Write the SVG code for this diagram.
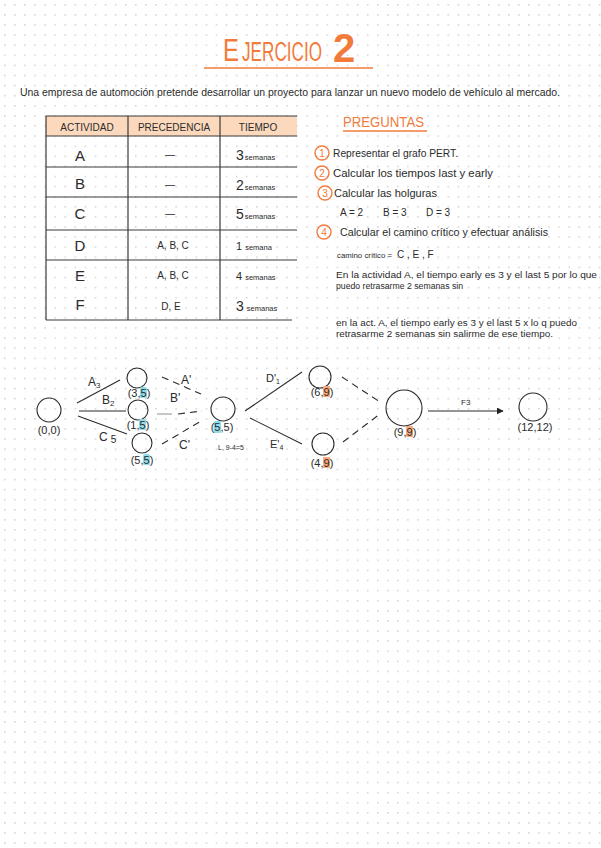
<svg xmlns="http://www.w3.org/2000/svg" width="601" height="848" viewBox="0 0 601 848">
<defs>
<pattern id="dots" x="4" y="4" width="10.08" height="10.1" patternUnits="userSpaceOnUse">
<circle cx="0.8" cy="0.8" r="0.8" fill="#c9c9c9"/>
</pattern>
<marker id="arr" viewBox="0 0 10 10" refX="9" refY="5" markerWidth="7" markerHeight="7" markerUnits="userSpaceOnUse" orient="auto">
<path d="M0,0 L10,5 L0,10 z" fill="#222"/>
</marker>
<style>
.t{font-family:"Liberation Sans","DejaVu Sans",sans-serif;fill:#2b2b2b}
.o{font-family:"Liberation Sans","DejaVu Sans",sans-serif;fill:#f27b3c}
.hw{font-size:8.5px}
.ln{stroke:#2b2b2b;stroke-width:1.1;fill:none}
.tb{stroke:#3a3a3a;stroke-width:1.2;fill:none}
.nd{stroke:#2b2b2b;stroke-width:1.1;fill:none}
.da{stroke:#2b2b2b;stroke-width:1.1;fill:none;stroke-dasharray:7 5}
.oc{stroke:#f27b3c;stroke-width:1.4;fill:none}
.lb{font-size:11px}
.hb{fill:#8fdcec}
.ho{fill:#f8a97b}
.cell{font-size:15px;text-anchor:middle}
.pre{font-size:10px;text-anchor:middle}
.num{font-size:14px}
.sem{font-size:7.5px}
</style>
</defs>
<rect width="601" height="848" fill="#ffffff"/>
<rect width="601" height="848" fill="url(#dots)"/>

<g id="title">
<g transform="translate(223,61) scale(0.77,1)"><text class="o" x="0" y="0" font-size="31">E</text></g>
<g transform="translate(242,61) scale(0.635,1)"><text class="o" x="0" y="0" font-size="27">JERCICIO</text></g>
<text class="o" x="333" y="62" font-size="40" font-weight="bold">2</text>
<line x1="204" y1="68" x2="373" y2="68" stroke="#f27b3c" stroke-width="1.5"/>
</g>

<g id="intro">
<text class="t" x="20" y="96" font-size="10" textLength="540" lengthAdjust="spacingAndGlyphs">Una empresa de automoción pretende desarrollar un proyecto para lanzar un nuevo modelo de vehículo al mercado.</text>
</g>

<g id="table">
<rect x="46" y="116" width="251" height="20" fill="#fbd2b2" opacity="0.85"/>
<line class="tb" x1="46" y1="116" x2="297" y2="116" stroke="#e9a77c"/>
<line class="tb" x1="46" y1="136" x2="297" y2="136"/>
<line class="tb" x1="46" y1="167" x2="297" y2="167"/>
<line class="tb" x1="46" y1="197" x2="297" y2="197"/>
<line class="tb" x1="46" y1="230" x2="297" y2="230"/>
<line class="tb" x1="46" y1="260" x2="297" y2="260"/>
<line class="tb" x1="46" y1="320" x2="292" y2="320"/>
<line class="tb" x1="46" y1="116" x2="46" y2="320"/>
<line class="tb" x1="128" y1="116" x2="128" y2="320"/>
<line class="tb" x1="220" y1="116" x2="220" y2="320"/>
<text class="t" x="87" y="131" font-size="10" text-anchor="middle">ACTIVIDAD</text>
<text class="t" x="174" y="131" font-size="10" text-anchor="middle">PRECEDENCIA</text>
<text class="t" x="258" y="131" font-size="10" text-anchor="middle">TIEMPO</text>
<text class="t cell" x="80" y="161">A</text>
<text class="t cell" x="80" y="189">B</text>
<text class="t cell" x="80" y="219">C</text>
<text class="t cell" x="80" y="251">D</text>
<text class="t cell" x="80" y="281">E</text>
<text class="t cell" x="80" y="310">F</text>
<text class="t pre" x="170" y="158" font-size="13">—</text>
<text class="t pre" x="170" y="188" font-size="13">—</text>
<text class="t pre" x="170" y="217" font-size="13" fill="#777">—</text>
<text class="t pre" x="173" y="249">A, B, C</text>
<text class="t pre" x="173" y="279">A, B, C</text>
<text class="t pre" x="171" y="310">D, E</text>
<text class="t" x="236" y="160"><tspan class="num">3</tspan><tspan class="sem" dx="1">semanas</tspan></text>
<text class="t" x="236" y="190"><tspan class="num">2</tspan><tspan class="sem" dx="1">semanas</tspan></text>
<text class="t" x="236" y="219"><tspan class="num">5</tspan><tspan class="sem" dx="1">semanas</tspan></text>
<text class="t" x="236" y="250"><tspan font-size="11">1</tspan><tspan class="sem" dx="3">semana</tspan></text>
<text class="t" x="236" y="280"><tspan font-size="11">4</tspan><tspan class="sem" dx="3">semanas</tspan></text>
<text class="t" x="236" y="311"><tspan class="num">3</tspan><tspan class="sem" dx="3">semanas</tspan></text>
</g>

<g id="preguntas">
<text class="o" x="343" y="127" font-size="14" textLength="81" lengthAdjust="spacingAndGlyphs">PREGUNTAS</text>
<line x1="343" y1="131" x2="427" y2="131" stroke="#f27b3c" stroke-width="1.3"/>
<circle class="oc" cx="322" cy="153" r="7"/>
<text class="o" x="322" y="157" font-size="10" text-anchor="middle">1</text>
<text class="t" x="333" y="157" font-size="10" textLength="125" lengthAdjust="spacingAndGlyphs">Representar el grafo PERT.</text>
<circle class="oc" cx="322" cy="173" r="7"/>
<text class="o" x="322" y="177" font-size="10" text-anchor="middle">2</text>
<text class="t" x="333" y="177" font-size="10" textLength="160" lengthAdjust="spacingAndGlyphs">Calcular los tiempos last y early</text>
<circle class="oc" cx="325" cy="193" r="7"/>
<text class="o" x="325" y="197" font-size="10" text-anchor="middle">3</text>
<text class="t" x="334" y="197" font-size="10" textLength="103" lengthAdjust="spacingAndGlyphs">Calcular las holguras</text>
<text class="t" x="340" y="216" font-size="10">A = 2</text>
<text class="t" x="383" y="216" font-size="10">B = 3</text>
<text class="t" x="426" y="216" font-size="10">D = 3</text>
<circle class="oc" cx="324" cy="232" r="7"/>
<text class="o" x="324" y="236" font-size="10" text-anchor="middle">4</text>
<text class="t" x="340" y="236" font-size="10" textLength="208" lengthAdjust="spacingAndGlyphs">Calcular el camino crítico y efectuar análisis</text>
<text class="t" x="337" y="258" font-size="7" textLength="55" lengthAdjust="spacingAndGlyphs">camino crítico =</text>
<text class="t" x="397" y="258" font-size="10">C , E , F</text>
<text class="t hw" x="336" y="278" textLength="261" lengthAdjust="spacingAndGlyphs">En la actividad A, el tiempo early es 3 y el last 5 por lo que</text>
<text class="t hw" x="336" y="289" textLength="127" lengthAdjust="spacingAndGlyphs">puedo retrasarme 2 semanas sin</text>
<text class="t hw" x="336" y="326" textLength="241" lengthAdjust="spacingAndGlyphs">en la act. A, el tiempo early es 3 y el last 5 x lo q puedo</text>
<text class="t hw" x="336" y="337" textLength="217" lengthAdjust="spacingAndGlyphs">retrasarme 2 semanas sin salirme de ese tiempo.</text>
</g>

<g id="connectors">
<line class="ln" x1="77" y1="403" x2="120" y2="380"/>
<line class="ln" x1="79" y1="411" x2="126" y2="411"/>
<line class="ln" x1="78" y1="416" x2="127" y2="434"/>
<line class="da" x1="162" y1="377" x2="201" y2="394"/>
<line x1="157" y1="414" x2="172" y2="414" stroke="#999" stroke-width="1.1"/>
<line class="da" x1="178" y1="414" x2="202" y2="411"/>
<line class="da" x1="162" y1="444" x2="203" y2="420"/>
<line class="ln" x1="245" y1="411" x2="302" y2="372"/>
<line class="ln" x1="250" y1="418" x2="302" y2="444"/>
<line class="da" x1="342" y1="377" x2="380" y2="402"/>
<line class="da" x1="343" y1="442" x2="380" y2="414"/>
<line class="ln" x1="428" y1="411" x2="503" y2="411" marker-end="url(#arr)"/>
<text class="t" x="88" y="386" font-size="12">A<tspan font-size="8" dy="2">3</tspan></text>
<text class="t" x="102" y="404" font-size="12">B<tspan font-size="8" dy="2">2</tspan></text>
<text class="t" x="99" y="441" font-size="12">C<tspan font-size="10" dx="3" dy="2">5</tspan></text>
<text class="t" x="181" y="384" font-size="12">A'</text>
<text class="t" x="170" y="402" font-size="12">B'</text>
<text class="t" x="179" y="449" font-size="12">C'</text>
<text class="t" x="266" y="382" font-size="11">D'<tspan font-size="7" dy="2">1</tspan></text>
<text class="t" x="270" y="448" font-size="11">E'<tspan font-size="7" dy="2">4</tspan></text>
<text class="t" x="461" y="405" font-size="8">F3</text>
</g>

<g id="n0">
<circle class="nd" cx="49" cy="410" r="12"/>
<text class="t lb" x="49" y="434" text-anchor="middle">(0,0)</text>
</g>
<g id="n1">
<circle class="nd" cx="137" cy="378" r="10"/>
<rect class="hb" x="140" y="387" width="7" height="11" rx="1.5"/>
<text class="t lb" x="127.7" y="397">(3,5)</text>
</g>
<g id="n2">
<circle class="nd" cx="138" cy="410" r="10"/>
<rect class="hb" x="139" y="419" width="7" height="11" rx="1.5"/>
<text class="t lb" x="126.7" y="429">(1,5)</text>
</g>
<g id="n3">
<circle class="nd" cx="142" cy="443" r="10"/>
<rect class="hb" x="143" y="454" width="7" height="11" rx="1.5"/>
<text class="t lb" x="130.7" y="464">(5,5)</text>
</g>
<g id="n4">
<circle class="nd" cx="223" cy="409" r="12"/>
<rect class="hb" x="213.5" y="421" width="7.5" height="12" rx="1.5"/>
<text class="t lb" x="210.7" y="431">(5,5)</text>
<text class="t" x="218" y="450" font-size="7">L, 9-4=5</text>
</g>
<g id="n5">
<circle class="nd" cx="320" cy="377" r="11"/>
<rect class="ho" x="323" y="386" width="7" height="11" rx="1"/>
<text class="t lb" x="310.7" y="396">(6,9)</text>
</g>
<g id="n6">
<circle class="nd" cx="323" cy="444" r="11"/>
<rect class="ho" x="323" y="457" width="7" height="11" rx="1"/>
<text class="t lb" x="310.7" y="467">(4,9)</text>
</g>
<g id="n7">
<circle class="nd" cx="404" cy="408" r="18"/>
<rect class="ho" x="406" y="426" width="7" height="11" rx="1"/>
<text class="t lb" x="393.7" y="436">(9,9)</text>
</g>
<g id="n8">
<circle class="nd" cx="533" cy="407" r="14"/>
<text class="t lb" x="535" y="431" text-anchor="middle">(12,12)</text>
</g>
</svg>
